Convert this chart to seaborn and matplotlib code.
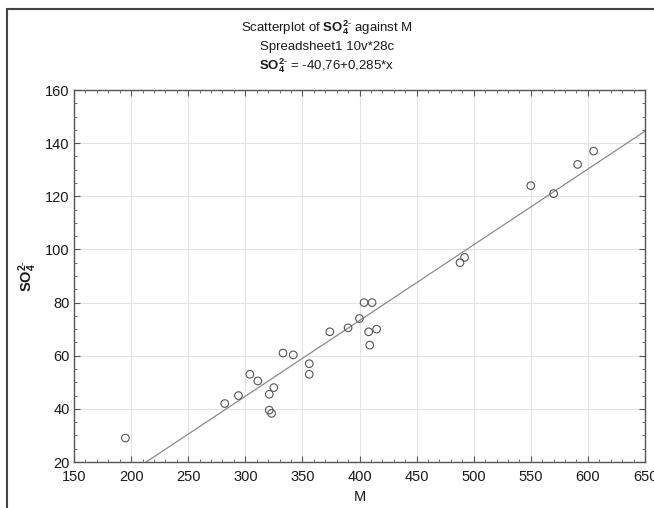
import matplotlib
matplotlib.use("Agg")
import matplotlib.pyplot as plt
import matplotlib.patches as mpatches
from matplotlib.ticker import MultipleLocator
import seaborn as sns
import pandas as pd

# Data
m_values = [195, 282, 294, 304, 311, 321, 325, 321, 323, 333, 342, 356, 356,
            374, 390, 400, 408, 415, 409, 404, 411, 488, 492, 550, 570, 591, 605]
so4_values = [29, 42, 45, 53, 50.5, 45.5, 48, 39.5, 38.3, 61, 60.3, 57, 53,
              69, 70.5, 74, 69, 70, 64, 80, 80, 95, 97, 124, 121, 132, 137]
intercept = -40.76
slope = 0.285
x_ticks = [150, 200, 250, 300, 350, 400, 450, 500, 550, 600, 650]
y_ticks = [20, 40, 60, 80, 100, 120, 140, 160]

df = pd.DataFrame({"M": m_values, "SO4": so4_values})

sns.set_theme(style="white")
plt.rcParams["font.family"] = ["Liberation Sans", "DejaVu Sans"]
plt.rcParams["mathtext.fontset"] = "custom"
plt.rcParams["mathtext.rm"] = "Liberation Sans"
plt.rcParams["mathtext.it"] = "Liberation Sans:italic"
plt.rcParams["mathtext.bf"] = "Liberation Sans:bold"

fig = plt.figure(figsize=(6.54, 5.08), dpi=100)
W, H = 654, 508
ax = fig.add_axes([74 / W, 1 - 462 / H, (645 - 74) / W, (462 - 90) / H])

ax.grid(True, color="#e3e3e3", linewidth=0.8)
ax.set_axisbelow(True)

ax.axline((0, intercept), slope=slope, color="#8a8a8a", linewidth=0.9, zorder=2)

sns.scatterplot(data=df, x="M", y="SO4", ax=ax, marker="o", s=30,
                facecolor="none", edgecolor="#555555", linewidth=0.8, zorder=3)

ax.set_xlim(x_ticks[0], x_ticks[-1])
ax.set_ylim(y_ticks[0], y_ticks[-1])
ax.set_xticks(x_ticks)
ax.set_yticks(y_ticks)
ax.xaxis.set_minor_locator(MultipleLocator(10))
ax.yaxis.set_minor_locator(MultipleLocator(5))
ax.tick_params(which="both", direction="in", top=True, right=True,
               bottom=True, left=True, colors="#555555", labelcolor="#1a1a1a")
ax.tick_params(which="major", length=4, width=0.8, labelsize=10.5)
ax.tick_params(axis="x", which="major", pad=6)
ax.tick_params(axis="y", which="major", pad=3)
ax.tick_params(which="minor", length=2, width=0.6)
for s in ax.spines.values():
    s.set_color("#555555")
    s.set_linewidth(1.0)

ax.set_xlabel("M", fontsize=10.5, color="#1a1a1a")
ax.set_ylabel(r"$\mathbf{SO_4^{2\text{-}}}$", fontsize=10.5, color="#1a1a1a")
ax.xaxis.set_label_coords((360 - 74) / 571, -(490 - 462) / 372)
ax.yaxis.set_label_coords((39 - 74) / 571, 0.5)

fig.text(327 / W, 1 - 28 / H,
         r"Scatterplot of $\mathbf{SO_4^{2\text{-}}}$ against M",
         ha="center", va="center", fontsize=9.5, color="#1a1a1a")
fig.text(327 / W, 1 - 47 / H, "Spreadsheet1 10v*28c",
         ha="center", va="center", fontsize=9.5, color="#1a1a1a")
fig.text(327 / W, 1 - 66 / H,
         r"$\mathbf{SO_4^{2\text{-}}}$ = -40,76+0,285*x",
         ha="center", va="center", fontsize=9.5, color="#1a1a1a")

# figure frame (left and top visible)
frame = mpatches.Rectangle((7 / W, -0.05), 1.2, 1 - 9 / H + 0.05,
                           transform=fig.transFigure, fill=False,
                           edgecolor="#444444", linewidth=1.5)
fig.patches.append(frame)

fig.savefig("out.png", dpi=100)
